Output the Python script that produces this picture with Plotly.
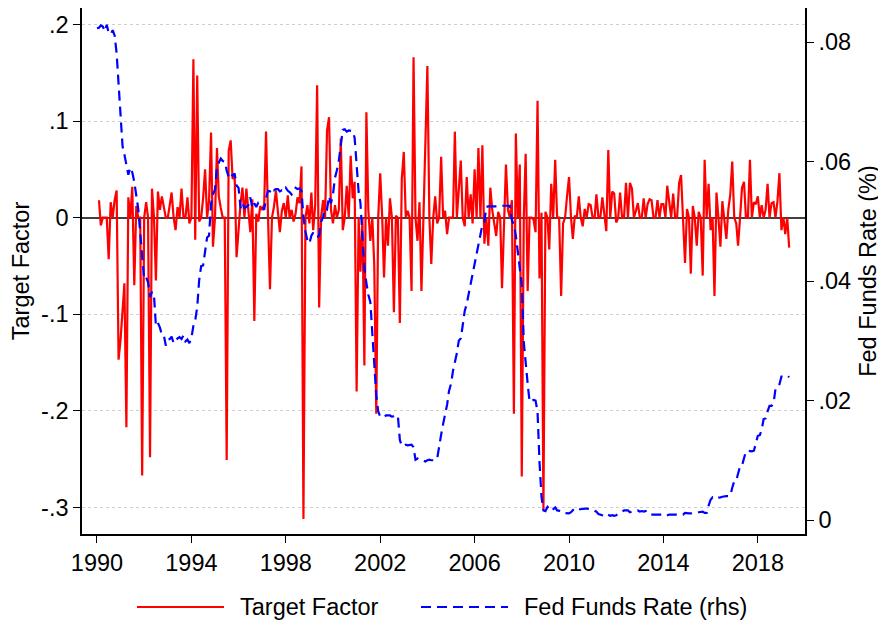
import plotly.graph_objects as go
import pandas as pd

# ---------------- data ----------------
# Target factor, monthly, Feb 1990 .. May 2019
tf_1990 = [0.018, -0.008, 0, 0, 0, -0.043, 0.016, 0, 0.018, 0.028, -0.147]  # Feb-Dec
tf_1991 = [-0.126, -0.092, -0.068, -0.217, 0.021, 0, 0.032, -0.07, 0.012, 0, 0, -0.267]
tf_1992 = [0, 0.016, 0, -0.248, 0.03, 0, -0.065, 0.027, 0.008, 0.022, 0.011, 0]
tf_1993 = [0, 0.015, 0.026, 0, -0.013, 0.011, 0, 0.03, 0, 0, 0.021, -0.006]
tf_1994 = [0, 0.164, -0.023, 0.147, -0.004, 0, 0.02, 0.05, 0, 0.017, 0.088, -0.03]
tf_1995 = [0, 0.072, 0.022, 0.01, 0, 0, -0.251, 0.069, 0.08, 0.04, 0.044, -0.041]
tf_1996 = [-0.007, 0.015, 0.031, 0, 0.03, 0.008, -0.015, 0.019, -0.107, 0.004, -0.004, 0.012]
tf_1997 = [0.008, 0.014, 0.089, 0, -0.074, 0, 0.011, 0.028, 0.008, -0.015, 0.007, 0.015]
tf_1998 = [0, 0.023, 0, 0.008, -0.004, 0.004, 0.021, 0.015, 0.053, -0.312, 0, 0.013]
tf_1999 = [-0.006, 0.026, -0.013, 0.013, 0.137, -0.093, 0, 0.018, 0, 0.09, 0.104, 0.008]
tf_2000 = [-0.006, 0.013, 0, 0.008, 0.082, -0.013, 0, 0.033, 0, 0.064, 0.02, 0.037]
tf_2001 = [-0.18, 0, -0.056, 0, -0.153, 0.109, 0.008, -0.024, 0, -0.049, -0.203, 0]
tf_2002 = [0.046, 0, -0.062, 0, -0.029, 0.02, 0, -0.098, 0.002, 0, -0.109, 0.04]
tf_2003 = [0.068, 0, 0.007, 0, -0.076, 0.166, 0, -0.024, 0.016, -0.076, 0, 0.08]
tf_2004 = [0.157, 0, -0.048, 0, 0.022, -0.006, 0, 0.063, 0, 0.007, -0.017, 0]
tf_2005 = [0, 0, 0.089, 0, 0.029, 0.059, 0, -0.009, 0.042, 0, 0.024, -0.006]
tf_2006 = [0.05, 0, 0.072, 0, 0.075, -0.027, 0, -0.029, 0.031, 0.008, -0.006, -0.019]
tf_2007 = [0.006, 0, -0.073, 0, 0.055, 0.008, 0, 0.018, -0.203, 0.087, 0, 0.055]
tf_2008 = [-0.268, 0, 0.066, -0.076, 0, 0, -0.002, -0.015, 0.121, -0.063, 0.005, -0.302]
tf_2009 = [0.006, 0, -0.033, 0.035, 0, 0.06, 0, 0, -0.081, -0.006, 0, 0.022]
tf_2010 = [0.042, 0, -0.022, 0.002, 0, 0.022, 0, -0.009, 0.009, 0, 0.014, 0.013]
tf_2011 = [0, 0, 0.024, 0, 0, 0.021, 0, -0.014, 0.07, 0, 0.027, 0.025]
tf_2012 = [-0.005, 0, 0.026, 0, 0, 0.036, 0, 0.036, 0.03, 0, 0.007, 0.015]
tf_2013 = [0, 0, 0.02, 0, 0.014, 0.019, 0.018, 0, 0, 0.018, 0, 0.014]
tf_2014 = [0.014, 0, 0.033, 0.013, 0, 0.025, 0, 0, 0.036, 0.044, 0, -0.047]
tf_2015 = [0.009, 0, -0.058, 0.012, 0, -0.029, 0.006, 0, -0.06, 0.06, 0, 0.035]
tf_2016 = [-0.013, 0, -0.081, 0.026, 0, -0.03, 0.017, 0, -0.022, 0.008, 0.024, 0.058]
tf_2017 = [0, -0.006, -0.029, 0, 0.031, 0.037, 0, 0, 0.06, 0, 0.016, 0.014]
tf_2018 = [0.022, 0, 0.013, 0, 0.008, 0.035, 0, 0.015, 0.016, 0, 0.017, 0.046]
tf_2019 = [-0.013, 0, -0.017, 0, -0.031]  # Jan-May

# Fed funds rate (decimal), monthly, Jan 1990 .. May 2019
ff_1990 = [0.0823, 0.0824, 0.0828, 0.0826, 0.0818, 0.0829, 0.0815, 0.0813, 0.0820, 0.0811, 0.0781, 0.0731]
ff_1991 = [0.0691, 0.0625, 0.0612, 0.0591, 0.0578, 0.0590, 0.0582, 0.0566, 0.0545, 0.0521, 0.0481, 0.0443]
ff_1992 = [0.0403, 0.0406, 0.0398, 0.0373, 0.0382, 0.0376, 0.0325, 0.0330, 0.0322, 0.0310, 0.0309, 0.0292]
ff_1993 = [0.0302, 0.0303, 0.0307, 0.0296, 0.0300, 0.0304, 0.0306, 0.0303, 0.0309, 0.0299, 0.0302, 0.0296]
ff_1994 = [0.0305, 0.0325, 0.0334, 0.0356, 0.0401, 0.0425, 0.0426, 0.0447, 0.0473, 0.0476, 0.0529, 0.0545]
ff_1995 = [0.0553, 0.0592, 0.0598, 0.0605, 0.0601, 0.0600, 0.0585, 0.0574, 0.0580, 0.0576, 0.0580, 0.0560]
ff_1996 = [0.0556, 0.0522, 0.0531, 0.0522, 0.0524, 0.0527, 0.0540, 0.0522, 0.0530, 0.0524, 0.0531, 0.0529]
ff_1997 = [0.0525, 0.0519, 0.0539, 0.0551, 0.0550, 0.0556, 0.0552, 0.0554, 0.0554, 0.0550, 0.0552, 0.0550]
ff_1998 = [0.0556, 0.0551, 0.0549, 0.0545, 0.0549, 0.0556, 0.0554, 0.0555, 0.0551, 0.0507, 0.0483, 0.0468]
ff_1999 = [0.0463, 0.0476, 0.0481, 0.0474, 0.0474, 0.0476, 0.0499, 0.0507, 0.0522, 0.0520, 0.0542, 0.0530]
ff_2000 = [0.0545, 0.0573, 0.0585, 0.0602, 0.0627, 0.0653, 0.0654, 0.0650, 0.0652, 0.0651, 0.0651, 0.0640]
ff_2001 = [0.0598, 0.0549, 0.0531, 0.0480, 0.0421, 0.0397, 0.0377, 0.0365, 0.0307, 0.0249, 0.0209, 0.0182]
ff_2002 = [0.0173, 0.0174, 0.0173, 0.0175, 0.0175, 0.0175, 0.0173, 0.0174, 0.0175, 0.0175, 0.0134, 0.0124]
ff_2003 = [0.0124, 0.0126, 0.0125, 0.0126, 0.0126, 0.0122, 0.0101, 0.0103, 0.0101, 0.0101, 0.0100, 0.0098]
ff_2004 = [0.0100, 0.0101, 0.0100, 0.0100, 0.0100, 0.0103, 0.0126, 0.0143, 0.0161, 0.0176, 0.0193, 0.0216]
ff_2005 = [0.0228, 0.0250, 0.0263, 0.0279, 0.0300, 0.0304, 0.0326, 0.0350, 0.0362, 0.0378, 0.0400, 0.0416]
ff_2006 = [0.0429, 0.0449, 0.0459, 0.0479, 0.0494, 0.0499, 0.0524, 0.0525, 0.0525, 0.0525, 0.0525, 0.0524]
ff_2007 = [0.0525, 0.0526, 0.0526, 0.0525, 0.0525, 0.0525, 0.0526, 0.0502, 0.0494, 0.0476, 0.0449, 0.0424]
ff_2008 = [0.0394, 0.0298, 0.0261, 0.0228, 0.0198, 0.0200, 0.0201, 0.0200, 0.0181, 0.0097, 0.0039, 0.0016]
ff_2009 = [0.0015, 0.0022, 0.0018, 0.0015, 0.0018, 0.0021, 0.0016, 0.0016, 0.0015, 0.0012, 0.0012, 0.0012]
ff_2010 = [0.0011, 0.0013, 0.0016, 0.0020, 0.0020, 0.0018, 0.0018, 0.0019, 0.0019, 0.0019, 0.0019, 0.0018]
ff_2011 = [0.0017, 0.0016, 0.0014, 0.0010, 0.0009, 0.0009, 0.0007, 0.0010, 0.0008, 0.0007, 0.0008, 0.0007]
ff_2012 = [0.0008, 0.0010, 0.0013, 0.0014, 0.0016, 0.0016, 0.0016, 0.0013, 0.0014, 0.0016, 0.0016, 0.0016]
ff_2013 = [0.0014, 0.0015, 0.0014, 0.0015, 0.0011, 0.0009, 0.0009, 0.0008, 0.0008, 0.0009, 0.0008, 0.0009]
ff_2014 = [0.0007, 0.0007, 0.0008, 0.0009, 0.0009, 0.0010, 0.0009, 0.0009, 0.0009, 0.0009, 0.0009, 0.0012]
ff_2015 = [0.0011, 0.0011, 0.0011, 0.0012, 0.0012, 0.0013, 0.0013, 0.0014, 0.0014, 0.0012, 0.0012, 0.0024]
ff_2016 = [0.0034, 0.0038, 0.0036, 0.0037, 0.0037, 0.0038, 0.0039, 0.0040, 0.0040, 0.0040, 0.0041, 0.0054]
ff_2017 = [0.0065, 0.0066, 0.0079, 0.0090, 0.0091, 0.0104, 0.0115, 0.0116, 0.0115, 0.0115, 0.0116, 0.0130]
ff_2018 = [0.0141, 0.0142, 0.0151, 0.0169, 0.0170, 0.0182, 0.0191, 0.0191, 0.0195, 0.0219, 0.0220, 0.0227]
ff_2019 = [0.0240, 0.0240, 0.0241, 0.0242, 0.0239]

year_ticks = ["1990", "1994", "1998", "2002", "2006", "2010", "2014", "2018"]
left_tickvals = [-0.3, -0.2, -0.1, 0, 0.1, 0.2]
left_ticktext = ["-.3", "-.2", "-.1", "0", ".1", ".2"]
right_tickvals = [0, 0.02, 0.04, 0.06, 0.08]
right_ticktext = ["0", ".02", ".04", ".06", ".08"]

tf_values = (tf_1990 + tf_1991 + tf_1992 + tf_1993 + tf_1994 + tf_1995 + tf_1996 + tf_1997
             + tf_1998 + tf_1999 + tf_2000 + tf_2001 + tf_2002 + tf_2003 + tf_2004 + tf_2005
             + tf_2006 + tf_2007 + tf_2008 + tf_2009 + tf_2010 + tf_2011 + tf_2012 + tf_2013
             + tf_2014 + tf_2015 + tf_2016 + tf_2017 + tf_2018 + tf_2019)
ff_values = (ff_1990 + ff_1991 + ff_1992 + ff_1993 + ff_1994 + ff_1995 + ff_1996 + ff_1997
             + ff_1998 + ff_1999 + ff_2000 + ff_2001 + ff_2002 + ff_2003 + ff_2004 + ff_2005
             + ff_2006 + ff_2007 + ff_2008 + ff_2009 + ff_2010 + ff_2011 + ff_2012 + ff_2013
             + ff_2014 + ff_2015 + ff_2016 + ff_2017 + ff_2018 + ff_2019)

tf_dates = pd.date_range("1990-02-01", periods=len(tf_values), freq="MS")
ff_dates = pd.date_range("1990-01-01", periods=len(ff_values), freq="MS")

FONT = "Liberation Sans, Arial, Helvetica, sans-serif"
RED = "#ff0000"
BLUE = "#0000ff"
DASH = "10px,6px"
FS = 23.5

# The page body has an 8px margin, so the figure is sized to the window minus that offset.
OFF = 8
FIG_W = 886 - OFF
FIG_H = 623 - OFF
PLOT_L, PLOT_R, PLOT_T, PLOT_B = 82, 805, 8, 534  # plot box in window pixels
M_L = PLOT_L - OFF
M_R = FIG_W - (PLOT_R - OFF)
M_T = PLOT_T - OFF
M_B = FIG_H - (PLOT_B - OFF)

fig = go.Figure()
fig.add_trace(go.Scatter(x=tf_dates, y=tf_values, mode="lines", name="Target Factor",
                         line=dict(color=RED, width=2.2), showlegend=False))
fig.add_trace(go.Scatter(x=ff_dates, y=ff_values, mode="lines", name="Fed Funds Rate (rhs)",
                         yaxis="y2", line=dict(color=BLUE, width=2.2, dash=DASH),
                         showlegend=False))

axis_common = dict(showline=True, linecolor="black", linewidth=1.5, ticks="outside",
                   ticklen=7, tickwidth=1.3, tickcolor="black",
                   tickfont=dict(family=FONT, size=FS, color="black"))

fig.update_layout(
    width=FIG_W, height=FIG_H,
    margin=dict(l=M_L, r=M_R, t=M_T, b=M_B, pad=0),
    paper_bgcolor="white", plot_bgcolor="white",
    font=dict(family=FONT, size=FS, color="black"),
    showlegend=False,
    xaxis=dict(type="date", range=["1989-05-14", "2020-01-01"],
               tickvals=[y + "-01-01" for y in year_ticks], ticktext=year_ticks,
               showgrid=False, zeroline=False, mirror=True, automargin=False, **axis_common),
    yaxis=dict(range=[-0.3275, 0.217], tickvals=left_tickvals, ticktext=left_ticktext,
               showgrid=True, gridcolor="#cfcfcf", gridwidth=1, griddash="dot",
               zeroline=True, zerolinecolor="#404040", zerolinewidth=1.6,
               mirror=True, automargin=False,
               title=dict(text="Target Factor", font=dict(family=FONT, size=FS), standoff=6),
               **axis_common),
    yaxis2=dict(overlaying="y", side="right", range=[-0.00234, 0.0857],
                tickvals=right_tickvals, ticktext=right_ticktext,
                showgrid=False, zeroline=False, automargin=False,
                title=dict(text="Fed Funds Rate (%)", font=dict(family=FONT, size=FS), standoff=9),
                **axis_common),
)

# legend drawn below the plot, matching the reference layout
plot_w = PLOT_R - PLOT_L
plot_h = PLOT_B - PLOT_T
def px_x(px):
    return (px - PLOT_L) / plot_w
def px_y(py):
    return (PLOT_B - py) / plot_h

leg_y = px_y(607)
fig.add_shape(type="line", xref="paper", yref="paper", x0=px_x(137), x1=px_x(224),
              y0=leg_y, y1=leg_y, line=dict(color=RED, width=2.2))
fig.add_shape(type="line", xref="paper", yref="paper", x0=px_x(421), x1=px_x(508),
              y0=leg_y, y1=leg_y, line=dict(color=BLUE, width=2.2, dash=DASH))
fig.add_annotation(xref="paper", yref="paper", x=px_x(238), y=leg_y, text="Target Factor",
                   showarrow=False, xanchor="left", yanchor="middle",
                   font=dict(family=FONT, size=FS, color="black"))
fig.add_annotation(xref="paper", yref="paper", x=px_x(522), y=leg_y, text="Fed Funds Rate (rhs)",
                   showarrow=False, xanchor="left", yanchor="middle",
                   font=dict(family=FONT, size=FS, color="black"))

fig.write_html("out.html")
